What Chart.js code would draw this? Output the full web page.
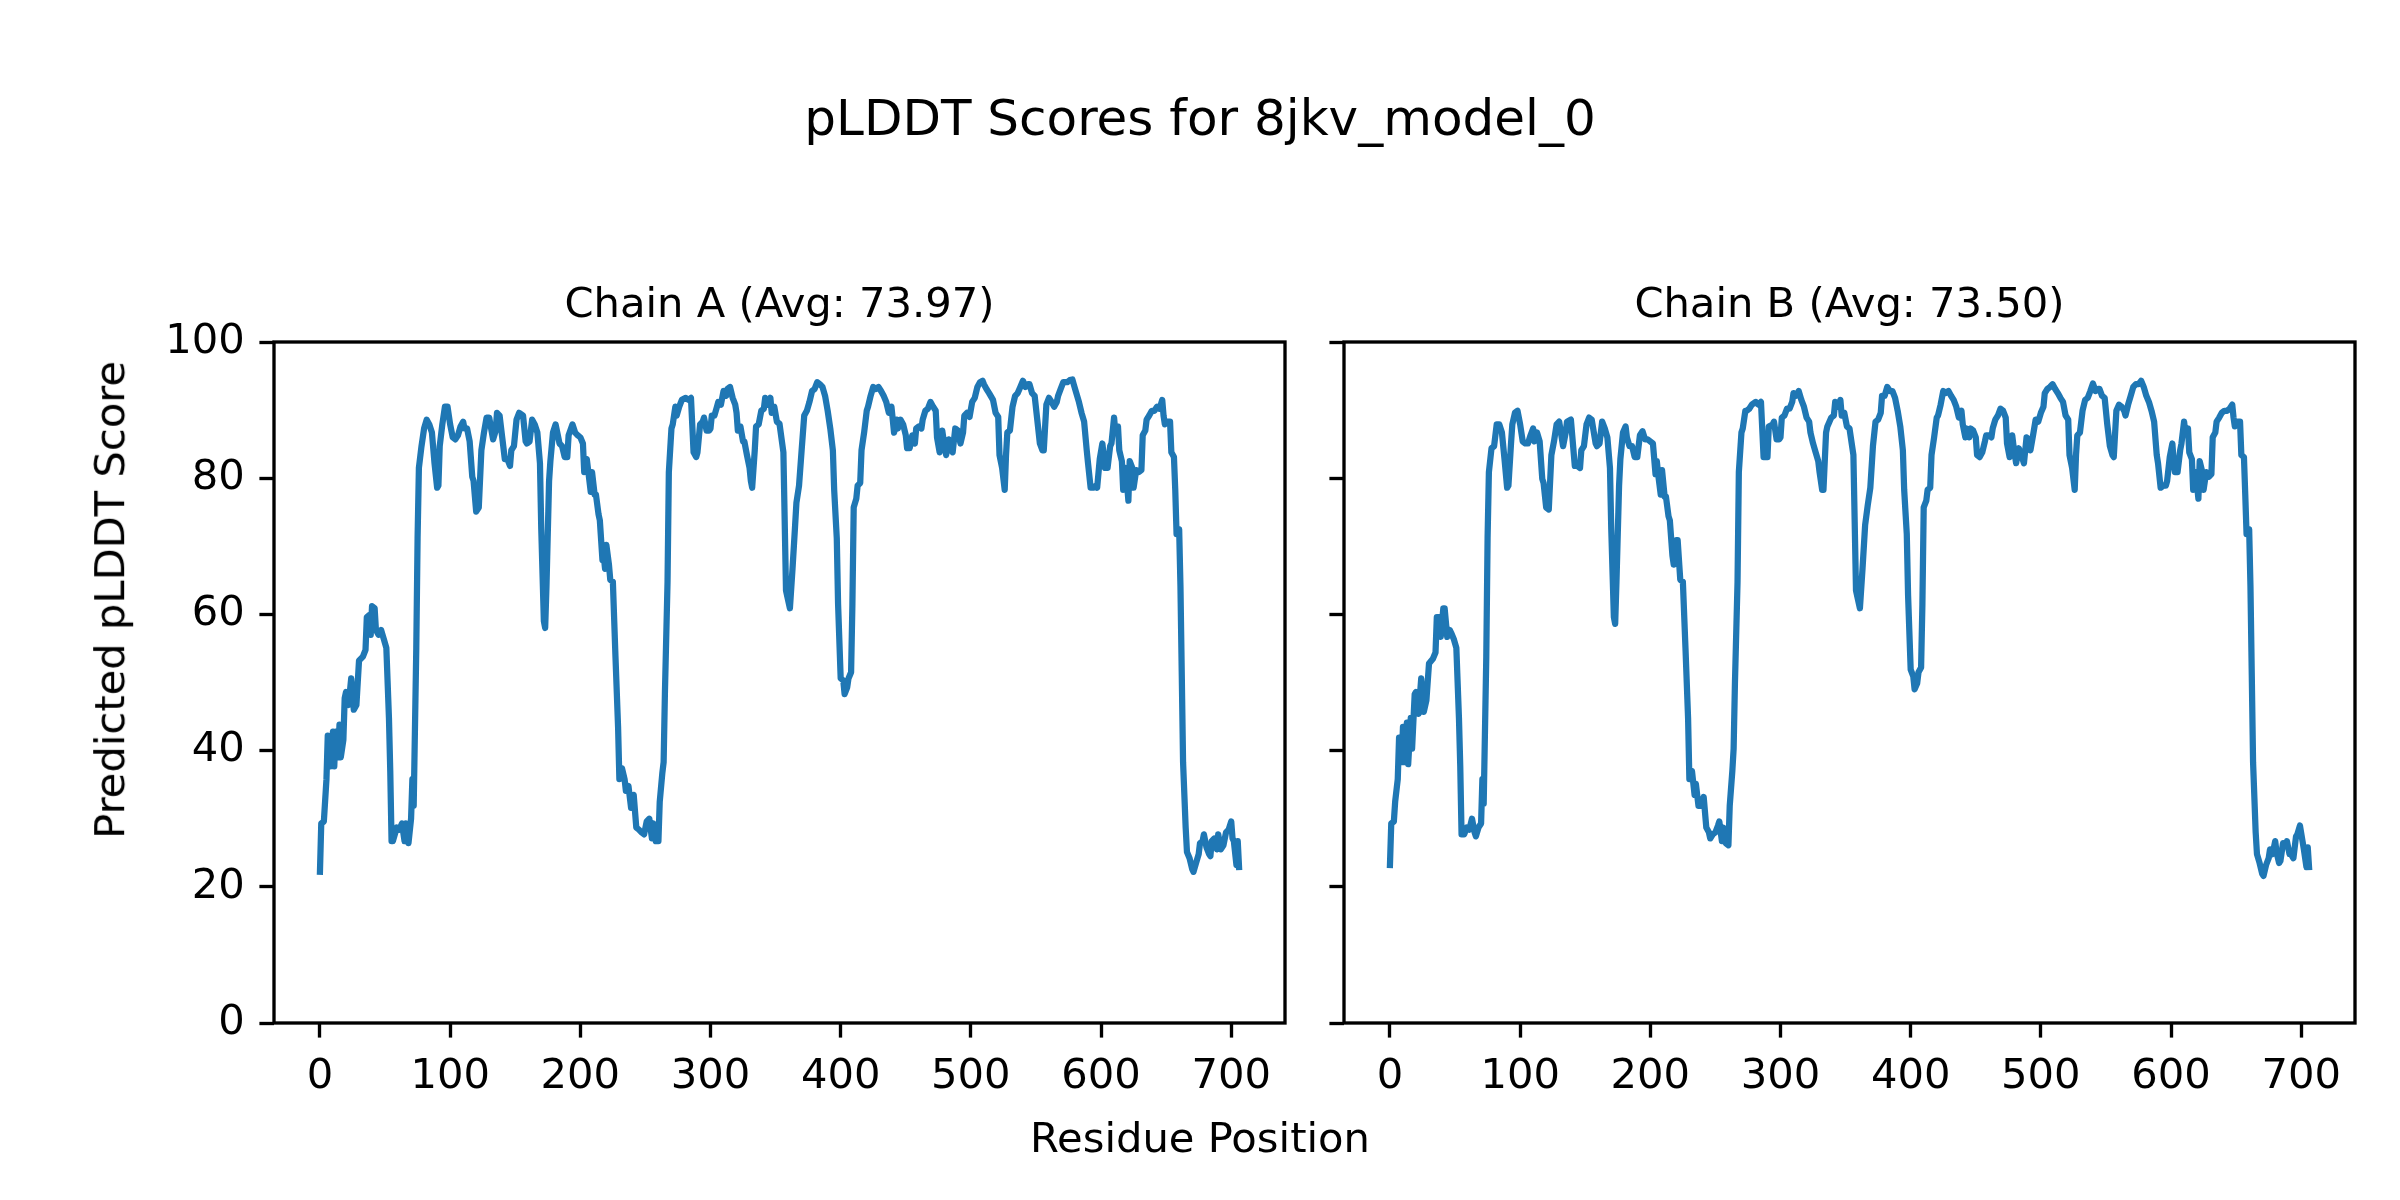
<!DOCTYPE html>
<html lang="en">
<head>
    <meta charset="UTF-8">
    <title>pLDDT Scores for 8jkv_model_0</title>
    <script src="https://cdn.jsdelivr.net/npm/chart.js"></script>
    <style>
        body { margin: 0; background: #fff; }
        #fig { position: relative; width: 2400px; height: 1200px; overflow: hidden; background: #fff; }
        #fig canvas { position: absolute; top: 0; }
        .txt { position: absolute; font-family: 'DejaVu Sans', sans-serif; color: #000; white-space: nowrap; line-height: 1; text-align: center; }
    </style>
</head>
<body>
<div id="fig">
    <canvas id="chartA" width="1300" height="1200" style="left:0"></canvas>
    <canvas id="chartB" width="1100" height="1200" style="left:1300px"></canvas>
    <div class="txt" style="left:0;width:2400px;top:92.7px;font-size:50px">pLDDT Scores for 8jkv_model_0</div>
    <div class="txt" style="left:274px;width:1011px;top:281.8px;font-size:41.67px">Chain A (Avg: 73.97)</div>
    <div class="txt" style="left:1344px;width:1011px;top:281.8px;font-size:41.67px">Chain B (Avg: 73.50)</div>
    <div class="txt" style="left:0;width:2400px;top:1116.8px;font-size:41.67px">Residue Position</div>
    <div class="txt" style="left:-290px;width:800px;top:579.2px;font-size:41.67px;transform:rotate(-90deg)">Predicted pLDDT Score</div>
</div>
<script>
    // residue positions and scores
    const posA = [
        0, 1, 3, 5, 6, 8, 10, 11, 12, 14,
        15, 16, 18, 19, 20, 22, 24, 26, 28, 30,
        33, 35, 36, 38, 39, 40, 42, 43, 45, 47,
        49, 51, 53, 54, 55, 56, 59, 61, 63, 65,
        66, 68, 70, 71, 72, 74, 75, 76, 78, 80,
        82, 84, 86, 88, 90, 91, 92, 94, 96, 98,
        100, 102, 104, 106, 108, 110, 111, 113, 115, 117,
        118, 120, 122, 124, 126, 128, 130, 133, 135, 136,
        138, 140, 142, 144, 146, 147, 149, 151, 153, 156,
        158, 159, 161, 163, 165, 167, 169, 170, 172, 173,
        174, 176, 177, 179, 181, 182, 184, 186, 188, 190,
        191, 194, 196, 198, 200, 202, 203, 205, 206, 208,
        209, 211, 212, 214, 215, 217, 218, 219, 220, 222,
        223, 225, 227, 229, 230, 232, 234, 235, 237, 239,
        241, 243, 245, 247, 249, 251, 253, 255, 256, 258,
        260, 261, 263, 264, 265, 267, 268, 270, 271, 273,
        274, 276, 278, 281, 283, 285, 287, 289, 290, 292,
        294, 295, 297, 299, 300, 301, 303, 305, 306, 308,
        310, 312, 313, 315, 317, 319, 320, 321, 323, 325,
        326, 328, 330, 331, 332, 334, 335, 337, 339, 341,
        342, 344, 346, 347, 349, 351, 353, 356, 358, 361,
        363, 365, 366, 368, 370, 372, 374, 376, 378, 380,
        382, 384, 386, 388, 390, 392, 394, 395, 397, 398,
        400, 402, 403, 405, 406, 408, 409, 410, 412, 413,
        415, 416, 418, 420, 421, 423, 425, 427, 429, 431,
        433, 435, 437, 439, 440, 441, 443, 444, 446, 448,
        450, 451, 453, 455, 457, 458, 460, 462, 463, 465,
        467, 469, 471, 473, 474, 476, 478, 479, 481, 483,
        485, 486, 488, 490, 492, 494, 495, 497, 499, 501,
        503, 505, 507, 509, 510, 512, 514, 517, 519, 521,
        522, 524, 526, 527, 528, 530, 532, 534, 536, 538,
        540, 542, 544, 545, 547, 549, 551, 553, 555, 556,
        558, 560, 562, 564, 566, 567, 569, 571, 574, 576,
        578, 579, 581, 583, 585, 587, 589, 590, 592, 594,
        596, 597, 599, 601, 602, 603, 605, 607, 608, 610,
        611, 613, 614, 616, 617, 619, 621, 622, 624, 625,
        627, 629, 631, 632, 634, 635, 637, 639, 641, 643,
        645, 647, 648, 649, 651, 653, 654, 656, 657, 658,
        660, 661, 662, 663, 665, 666, 668, 670, 671, 673,
        675, 676, 678, 679, 681, 683, 684, 685, 687, 689,
        690, 692, 694, 696, 698, 700, 701, 702, 704, 705,
        706
    ];
    const scoreA = [
        22.2, 29.3, 29.6, 35.8, 42.2, 37.7, 42.8, 37.7, 42.8, 39,
        43.8, 39, 41.6, 47.7, 48.6, 46.7, 50.6, 46, 46.7, 53.2,
        53.8, 54.8, 59.6, 59.9, 57, 61.2, 60.9, 57.7, 57, 57.7,
        56.4, 55.1, 44.8, 37, 26.7, 26.7, 28.7, 28.4, 29.3, 26.7,
        29.3, 26.4, 30, 35.8, 31.9, 55.1, 71.2, 81.5, 84.7, 87.3,
        88.6, 87.9, 86.7, 82.2, 78.6, 78.9, 84.7, 87.9, 90.5, 90.5,
        87.9, 86, 85.7, 86.3, 87.6, 88.3, 87.3, 87.3, 85.4, 80.2,
        79.6, 75.1, 75.7, 84.1, 86.7, 88.9, 88.9, 85.7, 87, 89.6,
        89.2, 86, 82.8, 82.8, 81.8, 84.1, 84.7, 88.6, 89.6, 89.2,
        85.4, 85.1, 85.4, 88.6, 87.9, 86.7, 82.2, 72.5, 59, 58,
        64.1, 79.6, 82.5, 86.7, 87.9, 87, 85.1, 84.7, 83.1, 83.1,
        86.3, 87.9, 86.7, 86.3, 86, 85.1, 80.9, 82.8, 81.2, 78,
        80.9, 77.6, 77.6, 74.7, 73.8, 68, 68.6, 66.7, 70.2, 67.3,
        65.1, 64.8, 53.8, 43.5, 35.8, 37.4, 35.8, 34.1, 34.8, 31.6,
        33.5, 28.7, 28.4, 28, 27.7, 29.6, 30, 27.1, 29.3, 26.7,
        26.7, 32.5, 36.7, 38.3, 48.6, 64.8, 80.9, 87.3, 87.9, 90.5,
        89.2, 90.5, 91.5, 91.8, 91.5, 91.8, 83.8, 83.1, 83.8, 87.9,
        88.3, 88.9, 87, 87, 87.3, 89.2, 89.2, 90.5, 91.2, 90.8,
        92.8, 92.1, 93.1, 93.4, 91.8, 90.8, 89.6, 87, 87.6, 85.4,
        85.4, 83.4, 81.5, 79.6, 78.6, 84.1, 87.6, 87.9, 89.9, 90.2,
        91.8, 90.8, 91.8, 89.6, 90.5, 88.3, 88, 83.8, 63.5, 60.9,
        66.7, 73.1, 76.4, 78.9, 84.1, 89.2, 89.9, 91.2, 92.8, 93.1,
        94.1, 93.8, 93.4, 92.1, 89.9, 87.3, 84.1, 78.3, 71.2, 61.5,
        50.6, 50.3, 48.3, 49.3, 50.6, 51.5, 61.5, 75.7, 77, 78.9,
        79.3, 84.1, 86.7, 89.9, 90.5, 92.1, 93.4, 93.1, 93.4, 92.8,
        92.1, 91.2, 89.6, 90.5, 88.6, 86.7, 88.6, 87.3, 88.6, 87.9,
        86.3, 84.4, 84.4, 86.3, 85.1, 87.3, 87.6, 87.3, 88.6, 89.9,
        90.2, 91.2, 90.5, 89.9, 86, 83.8, 87, 85.7, 83.4, 85.7,
        84.1, 83.8, 87.3, 87, 85.1, 86.7, 89.2, 89.6, 89, 91.2,
        91.8, 93.4, 94.1, 94.3, 93.8, 93.1, 92.5, 91.5, 89.6, 89,
        83.4, 81.5, 78.3, 83.4, 86.7, 87, 90.5, 92.1, 92.5, 93.4,
        94.3, 93.4, 93.8, 93.8, 92.5, 92.1, 88.6, 85.1, 84.1, 84.1,
        90.8, 91.8, 91.2, 90.5, 91.2, 92.1, 93.1, 94.1, 94.1, 94.4,
        94.5, 93.8, 92.5, 91.2, 89.6, 88.3, 84.1, 82.2, 78.6, 78.6,
        78.9, 78.6, 82.8, 85.1, 83.4, 81.5, 81.5, 84.7, 85.1, 88.9,
        86.7, 87.6, 84.1, 82.5, 78.3, 81.5, 76.7, 82.5, 81.5, 78.6,
        81.2, 80.9, 81.2, 86.3, 87, 88.6, 89.2, 89.9, 89.9, 90.5,
        90.2, 91.5, 89.2, 87.9, 88.3, 88.3, 83.8, 83.1, 78.3, 71.8,
        72.5, 64.1, 51.2, 38.3, 28.7, 25.1, 24.2, 22.6, 22.2, 23.5,
        24.8, 26.4, 26.7, 27.7, 25.8, 24.8, 24.5, 26.7, 27.1, 25.5,
        27.7, 25.5, 26.1, 28, 28.4, 29.6, 27.1, 26.7, 23.2, 26.7,
        22.9
    ];
    const posB = [
        0, 1, 3, 4, 6, 7, 9, 10, 11, 13,
        14, 16, 17, 19, 20, 22, 24, 26, 28, 30,
        33, 35, 36, 38, 39, 41, 42, 44, 46, 47,
        49, 51, 53, 54, 55, 57, 59, 61, 63, 65,
        66, 68, 70, 71, 72, 74, 75, 76, 78, 80,
        82, 84, 86, 88, 90, 91, 93, 94, 96, 98,
        100, 102, 104, 106, 108, 110, 111, 113, 115, 117,
        118, 120, 122, 124, 126, 128, 130, 133, 135, 136,
        139, 140, 142, 144, 146, 147, 149, 151, 153, 155,
        158, 159, 161, 163, 165, 167, 169, 170, 172, 173,
        174, 176, 177, 179, 181, 182, 184, 186, 188, 190,
        192, 194, 196, 198, 200, 202, 204, 205, 206, 208,
        209, 211, 212, 214, 215, 217, 218, 220, 221, 223,
        225, 227, 229, 230, 232, 234, 235, 237, 239, 241,
        243, 245, 246, 248, 250, 252, 253, 255, 256, 258,
        260, 261, 263, 264, 265, 267, 268, 270, 271, 273,
        274, 276, 278, 281, 283, 285, 287, 289, 290, 291,
        294, 295, 297, 299, 300, 301, 303, 305, 307, 309,
        310, 312, 314, 316, 318, 320, 322, 323, 325, 327,
        329, 330, 332, 333, 335, 336, 339, 341, 342, 344,
        346, 347, 349, 351, 353, 356, 358, 361, 363, 365,
        367, 369, 371, 373, 375, 377, 378, 380, 382, 384,
        386, 388, 390, 392, 394, 395, 397, 398, 400, 402,
        403, 405, 406, 408, 409, 410, 412, 413, 415, 416,
        418, 420, 421, 423, 425, 427, 429, 431, 433, 435,
        437, 439, 440, 442, 443, 445, 446, 448, 450, 451,
        453, 455, 457, 458, 460, 462, 463, 465, 467, 469,
        471, 473, 474, 476, 478, 479, 481, 483, 485, 487,
        489, 491, 492, 494, 496, 498, 500, 502, 503, 505,
        507, 509, 511, 513, 515, 517, 519, 521, 522, 524,
        526, 527, 528, 530, 532, 534, 536, 538, 540, 542,
        544, 545, 547, 549, 551, 553, 555, 556, 558, 560,
        562, 564, 565, 567, 569, 571, 573, 575, 577, 579,
        581, 583, 585, 587, 589, 590, 592, 594, 596, 597,
        599, 601, 602, 603, 605, 607, 608, 610, 611, 613,
        614, 616, 617, 619, 621, 622, 624, 625, 627, 629,
        631, 632, 634, 635, 637, 639, 641, 643, 645, 647,
        648, 649, 651, 653, 654, 656, 657, 658, 660, 661,
        662, 663, 665, 666, 668, 670, 671, 673, 675, 676,
        678, 680, 681, 683, 684, 686, 688, 689, 691, 692,
        694, 696, 697, 699, 701, 702, 704, 705, 706
    ];
    const scoreB = [
        23.2, 29.3, 29.6, 32.5, 35.8, 41.9, 38.3, 43.5, 38.3, 44.1,
        38, 44.8, 40.3, 48.3, 48.6, 45.4, 50.6, 45.7, 47.4, 52.8,
        53.5, 54.4, 59.6, 59.6, 56.7, 60.9, 60.9, 56.7, 57.7, 57.3,
        56.4, 55.1, 44.8, 37.7, 27.7, 27.7, 28.7, 28.4, 30, 28,
        27.4, 28.7, 29.3, 35.8, 32.2, 53.8, 71.2, 80.9, 84.4, 84.7,
        87.9, 87.9, 86.7, 82.8, 78.6, 78.9, 85.1, 87.9, 89.6, 89.9,
        87.9, 85.4, 85.1, 85.1, 86.3, 87.3, 85.4, 86.7, 85.4, 79.9,
        79.3, 75.7, 75.4, 83.4, 85.4, 87.9, 88.3, 84.7, 86.7, 88.3,
        88.6, 86.3, 81.8, 81.8, 81.5, 84.1, 84.7, 87.9, 88.9, 88.6,
        85.1, 84.7, 85.1, 88.3, 87.3, 86, 81.5, 72.5, 59.6, 58.6,
        64.8, 78.9, 82.8, 86.7, 87.6, 86, 84.7, 84.7, 83.1, 83.1,
        86.3, 86.9, 85.7, 85.7, 85.4, 85.1, 80.6, 82.5, 80.6, 77.6,
        81.2, 77.3, 77.3, 74.4, 73.8, 68.6, 67.3, 70.9, 70.9, 65.1,
        64.8, 55.1, 44.8, 35.8, 37, 33.5, 35.1, 31.9, 31.9, 33.2,
        28.7, 28, 27.1, 27.7, 28, 29, 29.6, 26.7, 28.7, 26.4,
        26.1, 31.9, 37, 40.3, 49.9, 64.8, 80.9, 86.7, 87.3, 89.9,
        89.9, 90.2, 90.8, 91.2, 90.8, 91.2, 83.1, 83.1, 83.1, 87.6,
        87.9, 88.3, 85.7, 85.7, 86, 88.9, 89.2, 90.2, 90.2, 91.2,
        92.5, 92.1, 92.8, 91.5, 90.5, 88.9, 88.3, 86.7, 85.1, 83.8,
        82.5, 80.9, 78.3, 78.3, 86.7, 87.6, 88.9, 89.2, 91.2, 90.5,
        91.5, 89.2, 89.6, 87.6, 87.3, 83.4, 63.5, 60.9, 66.7, 73.1,
        76, 78.6, 84.7, 88.3, 88.6, 89.6, 92.1, 92.1, 93.4, 92.8,
        92.8, 91.8, 89.9, 87.6, 84.1, 78.3, 71.8, 62.8, 51.9, 50.9,
        49, 49.9, 51.5, 52.2, 61.5, 75.7, 76.7, 78.3, 78.6, 83.4,
        86, 88.9, 89.2, 90.8, 92.8, 92.5, 92.8, 92.1, 91.5, 90.5,
        88.9, 89.9, 87.9, 86, 87.3, 86, 87.3, 87, 86, 83.4,
        83.1, 83.8, 85.4, 86.3, 86.3, 86, 87.3, 88.6, 89.2, 90.2,
        89.9, 88.9, 85.1, 83.1, 86.3, 84.7, 82.2, 84.4, 83.4, 82.2,
        86, 85.7, 84.1, 86.3, 88.6, 88.3, 89.6, 90.5, 92.5, 93.1,
        93.4, 93.8, 93.1, 92.5, 91.8, 91.2, 89.2, 88.6, 83.4, 81.5,
        78.3, 83.4, 86.3, 86.7, 89.9, 91.5, 91.8, 92.8, 93.9, 92.8,
        93.1, 93.1, 92.1, 91.8, 87.9, 84.7, 83.4, 83.1, 89.9, 90.8,
        90.5, 89.9, 89.2, 90.8, 92.1, 93.4, 93.8, 93.8, 94.3, 93.4,
        92.1, 91.2, 89.9, 88.3, 83.4, 82.2, 78.6, 78.9, 78.9, 79.6,
        83.1, 85.1, 82.5, 80.9, 80.9, 84.1, 85.1, 88.3, 86.7, 87.3,
        83.8, 82.8, 78.3, 80.9, 77, 82.5, 80.9, 78.3, 80.9, 80.2,
        80.6, 86, 86.7, 88.3, 88.9, 89.6, 89.9, 89.9, 90.2, 90.8,
        88.9, 87.6, 88.3, 88.3, 83.4, 83.1, 77.6, 71.8, 72.5, 64.1,
        51.2, 38.3, 28, 24.8, 23.5, 21.9, 21.6, 23.2, 24.2, 25.5,
        24.8, 26.7, 25.1, 23.5, 23.8, 26.4, 26.1, 26.7, 24.8, 24.8,
        24.2, 27.4, 27.7, 29, 26.7, 25.5, 22.9, 25.8, 22.9
    ];
    const xTicks = [0, 100, 200, 300, 400, 500, 600, 700];
    const yTicks = [0, 20, 40, 60, 80, 100];

    const lineColor = '#1f77b4';
    const tickFont = { family: 'DejaVu Sans', size: 41.67 };

    // matplotlib style box round the plot area
    const framePlugin = {
        id: 'frame',
        afterDraw(chart) {
            const ctx = chart.ctx;
            const a = chart.chartArea;
            ctx.save();
            ctx.strokeStyle = '#000';
            ctx.lineWidth = 3.33;
            ctx.strokeRect(a.left, a.top, a.right - a.left, a.bottom - a.top);
            ctx.restore();
        }
    };

    function tickGrid() {
        return {
            display: true,
            drawOnChartArea: false,
            drawTicks: true,
            tickLength: 14.6,
            tickWidth: 3.33,
            tickColor: '#000'
        };
    }

    function makeChart(id, pos, scores, showYLabels, yAxisWidth, padRight) {
        let points = [];
        for (let i = 0; i < Math.min(pos.length, scores.length); i++) {
            points.push({ x: pos[i], y: scores[i] });
        }
        return new Chart(document.getElementById(id), {
            type: 'line',
            data: {
                datasets: [{
                    data: points,
                    borderColor: lineColor,
                    borderWidth: 6.25,
                    borderJoinStyle: 'round',
                    borderCapStyle: 'square',
                    pointRadius: 0,
                    fill: false,
                    tension: 0
                }]
            },
            options: {
                responsive: false,
                animation: false,
                devicePixelRatio: 1,
                layout: { padding: { left: 0, top: 342, right: padRight, bottom: 0 } },
                plugins: { legend: { display: false }, tooltip: { enabled: false } },
                scales: {
                    x: {
                        type: 'linear',
                        min: -35.3,
                        max: 741.3,
                        afterBuildTicks: axis => { axis.ticks = xTicks.map(v => ({ value: v })); },
                        afterFit: axis => { axis.height = 177; },
                        grid: tickGrid(),
                        border: { display: false },
                        ticks: { font: tickFont, color: '#000', padding: 14.6, maxRotation: 0, autoSkip: false }
                    },
                    y: {
                        min: 0,
                        max: 100,
                        afterBuildTicks: axis => { axis.ticks = yTicks.map(v => ({ value: v })); },
                        afterFit: axis => { axis.width = yAxisWidth; },
                        grid: tickGrid(),
                        border: { display: false },
                        ticks: { display: showYLabels, font: tickFont, color: '#000', padding: 14.6 }
                    }
                }
            },
            plugins: [framePlugin]
        });
    }

    makeChart('chartA', posA, scoreA, true, 274, 15);
    makeChart('chartB', posB, scoreB, false, 44, 45);
</script>
</body>
</html>
